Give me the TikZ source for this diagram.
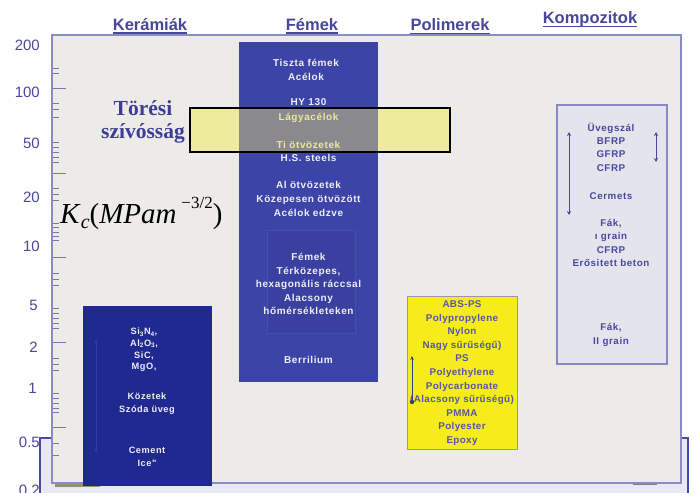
\documentclass[tikz,border=0pt]{standalone}
\usepackage{fontspec}
\usepackage{graphicx}
\setmainfont{Liberation Sans}
\newfontfamily\boxfont{Liberation Sans}[LetterSpace=6]
\newfontfamily\polfont{Liberation Sans}[LetterSpace=4]
\newfontfamily\serfont{Liberation Serif}
\usetikzlibrary{arrows.meta}
\definecolor{frameC}{HTML}{8C8CC4}
\definecolor{plotbg}{HTML}{ECEBE8}
\definecolor{femC}{HTML}{3C44A8}
\definecolor{femIn}{HTML}{3940A0}
\definecolor{femInB}{HTML}{464EB0}
\definecolor{kerC}{HTML}{202892}
\definecolor{kerLine}{HTML}{343CA6}
\definecolor{labC}{HTML}{48489A}
\definecolor{bandY}{HTML}{EEEB9C}
\definecolor{bandG}{HTML}{8A8A8E}
\definecolor{polY}{HTML}{F6EC1A}
\definecolor{polB}{HTML}{9A98A8}
\definecolor{polT}{HTML}{5656A6}
\definecolor{kompBg}{HTML}{E4E4EC}
\definecolor{kompB}{HTML}{8A88C0}
\definecolor{kompT}{HTML}{4848A0}
\definecolor{lavC}{HTML}{E9E9F3}
\definecolor{brC}{HTML}{4A4AA6}
\definecolor{wC}{HTML}{EEEEF6}
\definecolor{ytC}{HTML}{ECE89A}
\definecolor{torC}{HTML}{3C3E96}
\definecolor{tickC}{HTML}{7676B6}
\definecolor{oliveC}{HTML}{9A9070}
\begin{document}
\begin{tikzpicture}[x=1pt,y=-1pt,
  axlab/.style={font=\fontsize{15}{15}\selectfont, text=labC, anchor=base east, inner sep=0},
  ttl/.style={font=\bfseries\fontsize{16.5}{16.5}\selectfont, text=labC, anchor=base, inner sep=0},
  ul/.style={labC, line width=1.6pt},
  wtxt/.style={font=\boxfont\bfseries\fontsize{10}{14}\selectfont, text=wC, align=center, inner sep=0},
  ytxt/.style={wtxt, text=ytC},
  ctxt/.style={font=\boxfont\bfseries\fontsize{9.2}{13}\selectfont, text=wC, align=center, inner sep=0},
  ptxt/.style={font=\polfont\bfseries\fontsize{9.8}{13.6}\selectfont, text=polT, align=center, inner sep=0},
  ktxt/.style={font=\boxfont\bfseries\fontsize{9.8}{13.3}\selectfont, text=kompT, align=center, inner sep=0},
  tickmark/.style={tickC, line width=1pt},
  dbl/.style={kompT, line width=1pt, {Stealth[length=4pt,width=4pt]}-{Stealth[length=4pt,width=4pt]}}
]
\fill[white] (0,0) rectangle (694,493);
\useasboundingbox (0,0) rectangle (694,493);

% bottom bracket rectangle and main frame
\filldraw[fill=lavC, draw=brC, line width=1.5pt] (40,438) rectangle (688,505);
\filldraw[fill=plotbg, draw=frameC, line width=1.5pt] (52,35) rectangle (681,483);
\fill[oliveC] (55,484) rectangle (100,487);
\fill[gray] (633,483.5) rectangle (657,485);

% ticks
\foreach \yy in {68,73,103,109,117,142,147,152,157,162,188,194,200,223,227,232,236,240,273,279,285,308,313,318,323,328,358,364,370,393,398,403,408,412,443,455}
  \draw[tickmark] (53,\yy) -- (59,\yy);
\foreach \yy in {88,173,257,342,427}
  \draw[tickmark] (53,\yy) -- (66,\yy);

% axis labels
\node[axlab] (l200) at (40,50.5) {200};
\node[axlab] (l100) at (40,97.5) {100};
\node[axlab] (l50) at (40,148.5) {50};
\node[axlab] (l20) at (40,202.5) {20};
\node[axlab] (l10) at (40,251.5) {10};
\node[axlab] (l5) at (38,310.5) {5};
\node[axlab] (l2) at (38,352.5) {2};
\node[axlab] (l1) at (37,393) {1};
\node[axlab] (l05) at (40,447.5) {0.5};
\node[axlab] (l02) at (40,495) {0.2};

% titles
\node[ttl] (tker) at (150,30) {Kerámiák};
\node[ttl] (tfem) at (312,30) {Fémek};
\node[ttl] (tpol) at (450,30.5) {Polimerek};
\node[ttl] (tkom) at (590,23.5) {Kompozitok};
\foreach \t in {tker,tfem,tpol,tkom}
  \draw[ul] ([yshift=-3pt]\t.base west) -- ([yshift=-3pt]\t.base east);

% boxes
\fill[femC] (239,42) rectangle (378,382);
\filldraw[fill=femIn, draw=femInB, line width=0.6pt] (267,230) rectangle (355,333);
\fill[kerC] (83,306) rectangle (212,486);
\draw[kerLine, line width=1pt] (96,342) -- (96,450);
\fill[kerLine] (96,342) circle (1.6);
\fill[kerLine] (96,450) circle (1.6);
\filldraw[fill=polY, draw=polB, line width=1pt] (407,296) rectangle (517,449);
\filldraw[fill=kompBg, draw=kompB, line width=1.5pt] (557,105) rectangle (667,364);

% highlighted band
\fill[bandY] (190,108) rectangle (450,152);
\fill[bandG] (239,108) rectangle (378,152);
\draw[black, line width=2pt] (190,108) rectangle (450,152);

% Toughness label
\node[font=\serfont\bfseries\fontsize{21.5}{23}\selectfont, text=torC, align=center, inner sep=0] (tor) at (143,121.5) {Törési\\szívósság};
\node[font=\serfont\fontsize{29}{29}\selectfont, anchor=base west, inner sep=0] (kc) at (60,223)
  {\textit{K}\raisebox{-5pt}{\fontsize{20}{20}\selectfont\textit{c}}(\textit{MPam}\,\raisebox{15pt}{\fontsize{17}{17}\selectfont −3/2})};

% Fémek texts
\node[wtxt] (f1) at (306,70) {Tiszta fémek\\Acélok};
\node[wtxt] (f2) at (308.5,102) {HY 130};
\node[ytxt] (f3) at (308.5,118) {Lágyacélok};
\node[ytxt] (f4) at (308.5,145) {Ti ötvözetek};
\node[wtxt] (f5) at (308.5,157.5) {H.S. steels};
\node[wtxt] (f6) at (308.5,198.5) {Al ötvözetek\\Közepesen ötvözött\\Acélok edzve};
\node[wtxt, font=\boxfont\bfseries\fontsize{10}{13.5}\selectfont] (f7) at (308.5,284) {Fémek\\Térközepes,\\hexagonális ráccsal\\Alacsony\\hőmérsékleteken};
\node[wtxt] (f8) at (308.5,360) {Berrilium};

% Kerámiák texts
\node[ctxt, font=\boxfont\bfseries\fontsize{9.2}{11.7}\selectfont] (k1) at (144,350)
  {Si\textsubscript{3}N\textsubscript{4},\\Al\textsubscript{2}O\textsubscript{3},\\SiC,\\MgO,};
\node[ctxt] (k2) at (147,403.5) {Közetek\\Szóda üveg};
\node[ctxt] (k3) at (147,456.5) {Cement\\Ice"};

% Polimerek texts
\node[ptxt] (p1) at (462,373) {ABS-PS\\Polypropylene\\Nylon\\Nagy sűrűségű)\\PS\\Polyethylene\\Polycarbonate\\(Alacsony sűrűségű)\\PMMA\\Polyester\\Epoxy};
\coordinate (pa1) at (412,402);
\coordinate (pa2) at (412,356);
\draw[kompT!80!black, line width=1pt, -{Stealth[length=4pt,width=3.5pt]}] (pa1) -- (pa2);
\fill[kompT!80!black] (pa1) circle (2.2);

% Kompozitok texts
\node[ktxt] (c1) at (611,147) {Üvegszál\\BFRP\\GFRP\\CFRP};
\node[ktxt] (c2) at (611,196) {Cermets};
\node[ktxt] (c3) at (611,243) {Fák,\\ı grain\\CFRP\\Erősitett beton};
\node[ktxt, font=\boxfont\bfseries\fontsize{9.8}{14}\selectfont] (c4) at (611,335) {Fák,\\II grain};
\coordinate (ca1) at (569,132);
\coordinate (ca2) at (569,215);
\coordinate (cb1) at (656,132);
\coordinate (cb2) at (656,162);
\draw[dbl] (ca1) -- (ca2);
\draw[dbl] (cb1) -- (cb2);
\end{tikzpicture}
\end{document}
